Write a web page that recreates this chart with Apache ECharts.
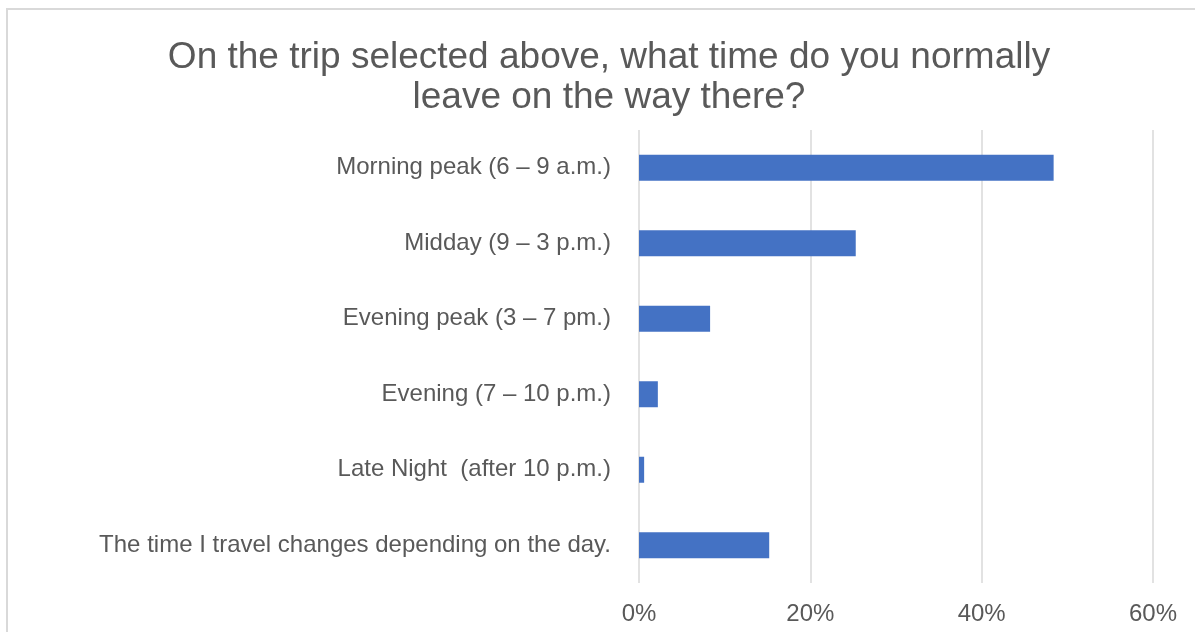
<!DOCTYPE html>
<html>
<head>
    <meta charset="utf-8">
    <title>Departure time</title>
    <script src="https://cdn.jsdelivr.net/npm/echarts@6/dist/echarts.min.js"></script>
    <style>
        html, body { margin: 0; padding: 0; background: #ffffff; }
        #frame {
            position: absolute; left: 6px; top: 8px; width: 1200px; height: 640px;
            border: 2px solid #d9d9d9; box-sizing: border-box;
        }
        #chart { position: absolute; left: 0; top: 0; width: 1195px; height: 632px; }
    </style>
</head>
<body>
<div id="frame"></div>
<div id="chart"></div>
<script>
    // categories listed top to bottom as in the picture
    var categories = [
        'Morning peak (6 – 9 a.m.)',
        'Midday (9 – 3 p.m.)',
        'Evening peak (3 – 7 pm.)',
        'Evening (7 – 10 p.m.)',
        'Late Night  (after 10 p.m.)',
        'The time I travel changes depending on the day.'
    ];
    var shares = [48.4, 25.3, 8.3, 2.2, 0.6, 15.2];
    var tickValues = [0, 20, 40, 60];

    var chart = echarts.init(document.getElementById('chart'));
    var option = {
        animation: false,
        title: {
            text: 'On the trip selected above, what time do you normally\nleave on the way there?',
            left: 604,
            top: 33,
            textAlign: 'center',
            textStyle: {
                fontFamily: 'Liberation Sans, Arial, sans-serif',
                fontSize: 37,
                fontWeight: 'normal',
                color: '#595959',
                lineHeight: 40
            }
        },
        grid: { left: 639, right: 42, top: 130, bottom: 49, containLabel: false },
        xAxis: {
            type: 'value',
            min: tickValues[0],
            max: tickValues[tickValues.length - 1],
            interval: 20,
            axisLine: { show: false },
            axisTick: { show: false },
            splitLine: { lineStyle: { color: '#d9d9d9', width: 1.5 } },
            axisLabel: {
                formatter: '{value}%',
                color: '#595959',
                fontSize: 24,
                fontFamily: 'Liberation Sans, Arial, sans-serif',
                margin: 19
            }
        },
        yAxis: {
            type: 'category',
            inverse: true,
            data: categories,
            axisLine: { show: false },
            axisTick: { show: false },
            axisLabel: {
                color: '#595959',
                fontSize: 24,
                fontFamily: 'Liberation Sans, Arial, sans-serif',
                margin: 28
            }
        },
        series: [{
            type: 'bar',
            data: shares,
            barWidth: 26,
            itemStyle: { color: '#4472c4' }
        }]
    };
    chart.setOption(option);
</script>
</body>
</html>
